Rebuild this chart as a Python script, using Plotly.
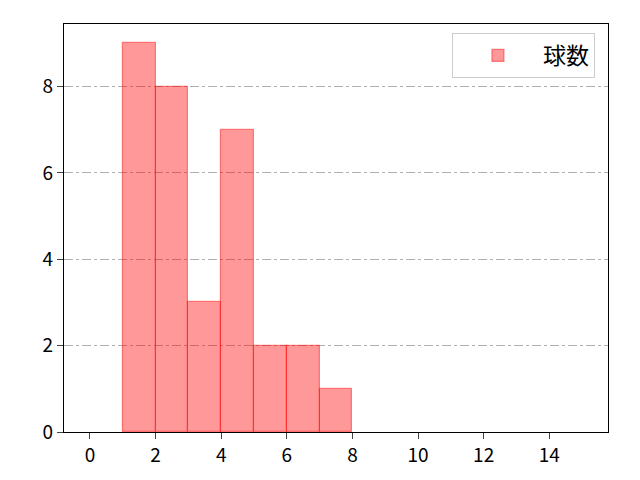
import plotly.graph_objects as go

bin_left = [1, 2, 3, 4, 5, 6, 7]
counts = [9, 8, 3, 7, 2, 2, 1]
series_name = "球数"
x_ticks = [0, 2, 4, 6, 8, 10, 12, 14]
y_ticks = [0, 2, 4, 6, 8]

fig = go.Figure()
fig.add_trace(go.Bar(
    x=[b + 0.5 for b in bin_left],
    y=counts,
    width=1,
    name=series_name,
    marker=dict(color="rgba(255,0,0,0.4)", line=dict(color="rgba(255,0,0,0.45)", width=1.2)),
    showlegend=True,
))

fig.update_layout(
    width=640, height=480,
    margin=dict(l=64, r=32, t=24, b=48),
    paper_bgcolor="white", plot_bgcolor="white",
    font=dict(family="Noto Sans CJK JP, DejaVu Sans", size=19, color="black"),
    bargap=0,
    showlegend=True,
    legend=dict(x=0.976, y=0.978, xanchor="right", yanchor="top",
                bordercolor="#cccccc", borderwidth=1, bgcolor="rgba(255,255,255,0.8)",
                font=dict(size=23), itemwidth=80),
    xaxis=dict(range=[-0.79, 15.79], tickvals=x_ticks, ticks="outside", ticklen=6,
               showgrid=False, zeroline=False, showline=True, linecolor="black",
               linewidth=1.2, mirror=True, tickfont=dict(size=19)),
    yaxis=dict(range=[0, 9.45], tickvals=y_ticks, ticks="outside", ticklen=6,
               showgrid=True, gridcolor="#b0b0b0", griddash="dashdot", gridwidth=1,
               zeroline=False, showline=True, linecolor="black",
               linewidth=1.2, mirror=True, tickfont=dict(size=19)),
)

fig.write_html("out.html", config={"displayModeBar": False},
               post_script="document.body.style.margin='0';document.body.style.padding='0';")
